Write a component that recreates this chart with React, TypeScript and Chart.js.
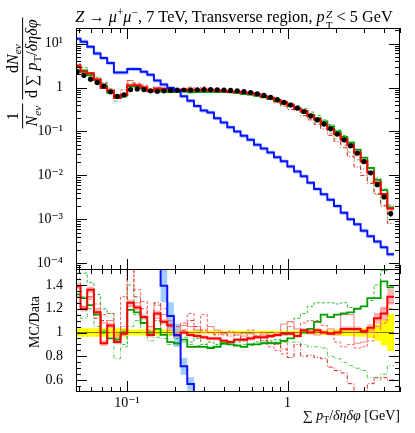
import React, { useEffect, useRef } from 'react';
import { Chart, registerables } from 'chart.js';

Chart.register(...registerables);

const SERIF = "'Liberation Serif', 'DejaVu Serif', serif";

// ---- binning (sum pT density, GeV) ----
const binEdges = [
  0.04667, 0.05133, 0.0565, 0.06216, 0.06842, 0.07525, 0.08285, 0.09117, 0.1003, 0.1104,
  0.1215, 0.1337, 0.1471, 0.1619, 0.1781, 0.196, 0.2157, 0.2373, 0.2612, 0.2873,
  0.3162, 0.3479, 0.3828, 0.4213, 0.4636, 0.5101, 0.5614, 0.6177, 0.6798, 0.748,
  0.8232, 0.9057, 0.9968, 1.0967, 1.2068, 1.328, 1.4614, 1.6082, 1.7697, 1.9473,
  2.1429, 2.358, 2.5947, 2.8552, 3.1419, 3.4575, 3.8046, 4.1866, 4.607,
];

// ---- data ----
const dataY = [
  2.3, 1.9, 1.55, 1.3, 1.08, 0.8, 0.63, 0.68, 0.9, 0.93,
  0.9, 0.84, 0.82, 0.84, 0.86, 0.87, 0.88, 0.88, 0.89, 0.9,
  0.9, 0.89, 0.88, 0.86, 0.84, 0.81, 0.77, 0.72, 0.66, 0.6,
  0.53, 0.46, 0.4, 0.34, 0.285, 0.227, 0.184, 0.147, 0.115, 0.0873,
  0.0648, 0.0473, 0.0323, 0.0208, 0.0114, 0.00615, 0.00323, 0.00135,
];
const dataRelErr = [
  0.035, 0.035, 0.035, 0.035, 0.035, 0.035, 0.035, 0.035,
  0.025, 0.025, 0.025, 0.025, 0.025, 0.025, 0.025, 0.025,
  0.015, 0.015, 0.015, 0.015, 0.015, 0.015, 0.015, 0.015, 0.015, 0.015,
  0.015, 0.015, 0.015, 0.015, 0.015, 0.015, 0.015, 0.015, 0.015, 0.015, 0.015,
  0.02, 0.02, 0.025, 0.03, 0.03, 0.035, 0.035, 0.045, 0.07, 0.11, 0.155,
];

// ---- blue MC (absolute values) ----
const blueMC = [
  13.0, 11.1, 8.5, 6.0, 4.7, 3.6, 2.2, 2.2, 2.65, 2.65,
  2.3, 1.95, 1.45, 1.17, 0.98, 0.85, 0.63, 0.5, 0.38, 0.3,
  0.27, 0.2, 0.16, 0.125, 0.1, 0.08, 0.065, 0.05, 0.041, 0.033,
  0.026, 0.021, 0.016, 0.0123, 0.0095, 0.0068, 0.0049, 0.0037, 0.0028, 0.002,
  0.0014, 0.001, 0.00077, 0.00055, 0.00041, 0.00031, 0.00023, 0.00016,
];
const blueRelErr = 0.1;

// ---- other MC, as MC/Data ----
const redRatio = [
  1.39, 1.2, 1.36, 1.17, 0.91, 1.06, 0.92, 0.99, 1.25, 1.21, 1.13, 0.98, 1.16, 1.09, 1.06, 0.98,
  1.0, 0.98, 0.97, 0.96, 0.95, 0.95, 0.93, 0.92, 0.94, 0.94, 0.95, 0.96, 0.96, 0.97, 0.98, 0.99,
  0.99, 0.97, 1.02, 1.0, 1.02, 1.0, 0.99, 1.0, 1.03, 1.03, 1.03, 1.01, 1.04, 1.12, 1.16, 1.3,
];
const redRelErr = [
  0.02, 0.02, 0.02, 0.02, 0.025, 0.02, 0.02, 0.02, 0.02, 0.02, 0.02, 0.02, 0.02, 0.02, 0.02, 0.02,
  0.015, 0.015, 0.015, 0.015, 0.015, 0.015, 0.015, 0.015, 0.015, 0.015, 0.015, 0.015, 0.015, 0.015, 0.015, 0.015,
  0.015, 0.015, 0.015, 0.015, 0.015, 0.015, 0.015, 0.015, 0.02, 0.02, 0.02, 0.02, 0.03, 0.04, 0.05, 0.05,
];
const greenRatio = [
  1.32, 1.29, 1.23, 1.15, 1.0, 0.95, 0.94, 1.0, 1.19, 1.17, 1.08, 1.0, 1.03, 0.98, 0.92, 0.91,
  0.94, 0.88, 0.88, 0.88, 0.87, 0.88, 0.91, 0.9, 0.89, 0.88, 0.9, 0.9, 0.91, 0.91, 0.91, 0.93,
  0.95, 0.97, 1.0, 1.03, 1.09, 1.15, 1.13, 1.15, 1.16, 1.17, 1.2, 1.22, 1.29, 1.29, 1.43, 1.38,
];
const greenRelErr = 0.035;
const pinkRatio = [
  1.3, 1.22, 1.3, 1.2, 1.08, 1.1, 0.96, 1.02, 1.22, 1.25, 1.08, 1.05, 1.12, 1.15, 1.02, 1.0,
  1.06, 1.05, 1.02, 1.0, 1.05, 1.02, 0.99, 1.0, 0.98, 0.97, 0.99, 1.0, 0.98, 0.96, 1.0, 1.07,
  1.09, 1.03, 1.0, 1.02, 0.98, 1.0, 1.03, 0.98, 1.15, 1.15, 0.91, 0.92, 1.0, 1.05, 1.2, 1.25,
];
const redDashRatio = [
  1.45, 1.3, 1.28, 1.24, 1.15, 1.16, 0.98, 1.3, 1.6, 1.36, 1.26, 1.02, 1.23, 1.2, 1.1, 1.05,
  1.08, 1.16, 1.0, 1.15, 1.0, 1.0, 0.98, 1.01, 1.0, 0.99, 1.02, 0.97, 1.0, 0.88, 0.85, 0.82,
  1.05, 1.0, 1.08, 1.1, 1.1, 1.06, 1.0, 0.92, 0.88, 0.9, 0.87, 0.88, 0.93, 1.0, 1.08, 1.2,
];
const redDotRatio = [
  1.25, 1.22, 1.3, 1.12, 1.1, 1.0, 0.96, 1.05, 1.6, 1.3, 1.2, 1.05, 1.25, 1.0, 1.1, 1.05,
  1.02, 1.1, 1.05, 1.02, 1.0, 0.98, 1.0, 0.97, 0.98, 0.95, 0.96, 0.97, 0.93, 0.92, 0.9, 0.86,
  0.79, 0.9, 0.8, 0.81, 0.79, 0.78, 0.71, 0.68, 0.66, 0.57, 0.48, 0.48, 0.57, 0.62, 0.62, 0.6,
];
const greenDashRatio = [
  1.5, 1.5, 1.42, 1.32, 1.2, 1.16, 0.95, 0.9, 1.4, 1.15, 1.12, 1.0, 1.1, 1.0, 0.98, 0.95,
  0.96, 0.92, 0.95, 0.9, 0.92, 0.9, 0.9, 0.92, 0.92, 0.93, 0.9, 0.92, 0.93, 0.93, 0.94, 0.98,
  1.09, 1.12, 1.16, 1.22, 1.25, 1.25, 1.25, 1.24, 1.25, 1.21, 1.2, 1.22, 1.27, 1.4, 1.52, 1.55,
];
const greenDotRatio = [
  1.15, 1.12, 1.2, 1.05, 1.02, 1.0, 0.78, 0.88, 1.05, 1.1, 1.0, 0.93, 0.96, 0.95, 0.9, 0.9,
  0.92, 0.9, 0.89, 0.9, 0.88, 0.89, 0.9, 0.91, 0.9, 0.9, 0.89, 0.9, 0.91, 0.92, 0.92, 0.92,
  0.92, 0.92, 0.9, 0.88, 0.88, 0.87, 0.8, 0.78, 0.75, 0.72, 0.7, 0.68, 0.62, 0.6, 0.65, 0.72,
];

// ---- axes ----
const X_MIN = 0.0481;
const X_MAX = 5.02;
const Y_MIN = 7.19e-5;
const Y_MAX = 22.7;
const R_MIN = 0.5;
const R_MAX = 1.534;
const xTickValues = [0.1, 1];
const xTickLabels = ['10\u207B\u00B9', '1'];
const yTickValues = [1e-4, 1e-3, 1e-2, 1e-1, 1, 10];
const yTickLabels = ['10\u207B\u2074', '10\u207B\u00B3', '10\u207B\u00B2', '10\u207B\u00B9', '1', '10\u00B9'];
const rTickValues = [0.6, 0.8, 1, 1.2, 1.4];
const rTickLabels = ['0.6', '0.8', '1', '1.2', '1.4'];

// ---- helpers ----
const stepData = (vals: number[]) => {
  const pts = vals.map((v, i) => ({ x: binEdges[i], y: v }));
  pts.push({ x: binEdges[vals.length], y: vals[vals.length - 1] });
  return pts;
};
const times = (a: number[], b: number[]) => a.map((v, i) => v * b[i]);
const scaleBy = (a: number[], f: (i: number) => number) => a.map((v, i) => v * f(i));

const line = (vals: number[], color: string, width: number, dash: number[], order: number) => ({
  type: 'line',
  data: stepData(vals),
  borderColor: color,
  borderWidth: width,
  borderDash: dash,
  pointRadius: 0,
  stepped: true,
  fill: false,
  order,
});
const band = (lo: number[], hi: number[], color: string, order: number) => [
  { type: 'line', data: stepData(lo), borderWidth: 0, borderColor: 'rgba(0,0,0,0)', pointRadius: 0, stepped: true, fill: false, order },
  { type: 'line', data: stepData(hi), borderWidth: 0, borderColor: 'rgba(0,0,0,0)', backgroundColor: color, pointRadius: 0, stepped: true, fill: '-1', order },
];

const COLORS = {
  blue: '#1010ff',
  blueBand: 'rgba(110,180,255,0.65)',
  red: '#ff0000',
  redBand: 'rgba(255,90,90,0.45)',
  green: '#00a000',
  greenBand: 'rgba(60,200,60,0.4)',
  pink: '#ff7a7a',
  redDash: '#ff5a5a',
  redDot: '#dd2020',
  greenDash: '#30b830',
  greenDot: '#55c855',
};

function framePlugin(kind: 'log' | 'ratio') {
  return {
    id: 'frame_' + kind,
    afterDraw(chart: any) {
      const { ctx, chartArea: a } = chart;
      const xs = chart.scales.x;
      const ys = chart.scales.y;
      const MAJ = 11;
      const MIN = 5;
      ctx.save();
      ctx.strokeStyle = '#000';
      ctx.lineWidth = 1;
      ctx.beginPath();
      for (const dec of [0.01, 0.1, 1]) {
        for (let m = 1; m <= 9; m++) {
          const v = m * dec;
          if (v < X_MIN || v > X_MAX) continue;
          const px = Math.round(xs.getPixelForValue(v)) + 0.5;
          const len = m === 1 ? MAJ : MIN;
          ctx.moveTo(px, a.top);
          ctx.lineTo(px, a.top + len);
          ctx.moveTo(px, a.bottom);
          ctx.lineTo(px, a.bottom - len);
        }
      }
      const yTick = (v: number, len: number) => {
        const py = Math.round(ys.getPixelForValue(v)) + 0.5;
        ctx.moveTo(a.left, py);
        ctx.lineTo(a.left + len, py);
        ctx.moveTo(a.right, py);
        ctx.lineTo(a.right - len, py);
      };
      if (kind === 'log') {
        for (let e = -5; e <= 2; e++) {
          for (let m = 1; m <= 9; m++) {
            const v = m * Math.pow(10, e);
            if (v < Y_MIN || v > Y_MAX) continue;
            yTick(v, m === 1 ? MAJ : MIN);
          }
        }
      } else {
        for (let i = 11; i <= 30; i++) {
          const v = i * 0.05;
          if (v > R_MAX) continue;
          yTick(v, i % 4 === 0 ? MAJ : MIN);
        }
      }
      ctx.stroke();
      ctx.strokeRect(a.left + 0.5, a.top + 0.5, a.right - a.left - 1, a.bottom - a.top - 1);
      ctx.restore();
    },
  };
}

const errorBarPlugin = {
  id: 'errbars',
  afterDatasetsDraw(chart: any) {
    const { ctx } = chart;
    const xs = chart.scales.x;
    const ys = chart.scales.y;
    ctx.save();
    ctx.strokeStyle = '#000';
    ctx.lineWidth = 1.2;
    ctx.beginPath();
    dataY.forEach((v, i) => {
      const xc = Math.sqrt(binEdges[i] * binEdges[i + 1]);
      const px = xs.getPixelForValue(xc);
      ctx.moveTo(px, ys.getPixelForValue(v * (1 + dataRelErr[i])));
      ctx.lineTo(px, ys.getPixelForValue(v * (1 - dataRelErr[i])));
    });
    ctx.stroke();
    ctx.restore();
  },
};

const tickFont = { family: SERIF, size: 14 };

function xScale(showLabels: boolean): any {
  const s: any = {
    type: 'logarithmic',
    display: showLabels,
    min: X_MIN,
    max: X_MAX,
    afterBuildTicks: (sc: any) => {
      sc.ticks = xTickValues.map((v) => ({ value: v }));
    },
    grid: { display: false, drawTicks: false },
    border: { display: false },
    ticks: {
      padding: 3,
      maxRotation: 0,
      autoSkip: false,
      color: '#000',
      font: tickFont,
      callback: (v: any) => {
        const i = xTickValues.findIndex((t) => Math.abs(Math.log10(t) - Math.log10(Number(v))) < 1e-6);
        return i >= 0 ? xTickLabels[i] : '';
      },
    },
  };
  if (showLabels) {
    s.afterFit = (sc: any) => {
      sc.height = 41;
      sc.paddingLeft = 0;
      sc.paddingRight = 0;
    };
  }
  return s;
}

const yFit = (s: any) => {
  s.width = 76;
  s.paddingTop = 0;
  s.paddingBottom = 0;
};

function mainConfig(): any {
  const redMain = times(dataY, redRatio);
  const greenMain = times(dataY, greenRatio);
  const datasets: any[] = [
    ...band(scaleBy(blueMC, () => 1 - blueRelErr), scaleBy(blueMC, () => 1 + blueRelErr), COLORS.blueBand, 30),
    ...band(scaleBy(greenMain, () => 1 - greenRelErr), scaleBy(greenMain, () => 1 + greenRelErr), COLORS.greenBand, 29),
    ...band(scaleBy(redMain, (i) => 1 - redRelErr[i]), scaleBy(redMain, (i) => 1 + redRelErr[i]), COLORS.redBand, 28),
    line(times(dataY, greenDotRatio), COLORS.greenDot, 1, [4, 2, 1, 2], 14),
    line(times(dataY, greenDashRatio), COLORS.greenDash, 1, [3, 2], 13),
    line(times(dataY, redDotRatio), COLORS.redDot, 1, [4, 2, 1, 2], 12),
    line(times(dataY, redDashRatio), COLORS.redDash, 1, [3, 2], 11),
    line(times(dataY, pinkRatio), COLORS.pink, 1, [], 10),
    line(greenMain, COLORS.green, 1.8, [], 6),
    line(redMain, COLORS.red, 2, [], 5),
    line(blueMC, COLORS.blue, 2, [], 4),
    {
      type: 'line',
      data: dataY.map((v, i) => ({ x: Math.sqrt(binEdges[i] * binEdges[i + 1]), y: v })),
      showLine: false,
      pointRadius: 2.6,
      pointBackgroundColor: '#000',
      pointBorderColor: '#000',
      pointBorderWidth: 0,
      order: 0,
    },
  ];
  return {
    type: 'line',
    data: { datasets },
    options: {
      responsive: false,
      animation: false,
      events: [],
      layout: { autoPadding: false, padding: { top: 28, right: 15, bottom: 0, left: 0 } },
      plugins: { legend: { display: false }, tooltip: { enabled: false } },
      scales: {
        x: xScale(false),
        y: {
          type: 'logarithmic',
          position: 'left',
          min: Y_MIN,
          max: Y_MAX,
          afterBuildTicks: (s: any) => {
            s.ticks = yTickValues.map((v) => ({ value: v }));
          },
          afterFit: yFit,
          grid: { display: false, drawTicks: false },
          border: { display: false },
          ticks: {
            padding: 13,
            autoSkip: false,
            color: '#000',
            font: tickFont,
            callback: (v: any) => {
              const i = yTickValues.findIndex((t) => Math.abs(Math.log10(t) - Math.log10(Number(v))) < 1e-6);
              return i >= 0 ? yTickLabels[i] : '';
            },
          },
        },
      },
    },
    plugins: [framePlugin('log'), errorBarPlugin],
  };
}

function ratioConfig(): any {
  const ones = dataY.map(() => 1);
  const blueRatio = blueMC.map((v, i) => v / dataY[i]);
  const datasets: any[] = [
    ...band(dataRelErr.map((e) => 1 - e), dataRelErr.map((e) => 1 + e), '#ffff00', 40),
    ...band(scaleBy(blueRatio, () => 1 - blueRelErr), scaleBy(blueRatio, () => 1 + blueRelErr), COLORS.blueBand, 30),
    ...band(scaleBy(redRatio, (i) => 1 - redRelErr[i]), scaleBy(redRatio, (i) => 1 + redRelErr[i]), COLORS.redBand, 28),
    line(ones, 'rgba(60,60,0,0.7)', 1, [], 20),
    line(greenDotRatio, COLORS.greenDot, 1, [4, 2, 1, 2], 14),
    line(greenDashRatio, COLORS.greenDash, 1, [3, 2], 13),
    line(redDotRatio, COLORS.redDot, 1, [4, 2, 1, 2], 12),
    line(redDashRatio, COLORS.redDash, 1, [3, 2], 11),
    line(pinkRatio, COLORS.pink, 1, [], 10),
    line(greenRatio, COLORS.green, 1.8, [], 6),
    line(redRatio, COLORS.red, 2, [], 5),
    line(blueRatio, COLORS.blue, 2, [], 4),
  ];
  return {
    type: 'line',
    data: { datasets },
    options: {
      responsive: false,
      animation: false,
      events: [],
      layout: { autoPadding: false, padding: { top: 0, right: 15, bottom: 0, left: 0 } },
      plugins: { legend: { display: false }, tooltip: { enabled: false } },
      scales: {
        x: xScale(true),
        y: {
          type: 'linear',
          position: 'left',
          min: R_MIN,
          max: R_MAX,
          afterBuildTicks: (s: any) => {
            s.ticks = rTickValues.map((v) => ({ value: v }));
          },
          afterFit: yFit,
          grid: { display: false, drawTicks: false },
          border: { display: false },
          ticks: {
            padding: 13,
            autoSkip: false,
            color: '#000',
            font: tickFont,
            callback: (v: any) => {
              const i = rTickValues.findIndex((t) => Math.abs(t - Number(v)) < 1e-6);
              return i >= 0 ? rTickLabels[i] : '';
            },
          },
        },
      },
    },
    plugins: [framePlugin('ratio')],
  };
}

const Frac = ({ num, den }: { num: React.ReactNode; den: React.ReactNode }) => (
  <span style={{ display: 'inline-flex', flexDirection: 'column', alignItems: 'center', verticalAlign: 'middle' }}>
    <span style={{ padding: '0 2px', lineHeight: 1.15 }}>{num}</span>
    <span style={{ borderTop: '1px solid #000', padding: '0 2px', lineHeight: 1.15 }}>{den}</span>
  </span>
);

const Sub = ({ children }: { children: React.ReactNode }) => (
  <span style={{ fontSize: '0.7em', position: 'relative', top: '0.3em' }}>{children}</span>
);

const SubSup = ({ sub, sup }: { sub: React.ReactNode; sup: React.ReactNode }) => (
  <span
    style={{
      display: 'inline-flex',
      flexDirection: 'column',
      fontSize: '0.68em',
      lineHeight: 0.95,
      verticalAlign: '0.38em',
      marginLeft: 1,
    }}
  >
    <span>{sup}</span>
    <span>{sub}</span>
  </span>
);

export default function App() {
  const mainRef = useRef<HTMLCanvasElement>(null);
  const ratioRef = useRef<HTMLCanvasElement>(null);

  useEffect(() => {
    const c1 = new Chart(mainRef.current as HTMLCanvasElement, mainConfig());
    const c2 = new Chart(ratioRef.current as HTMLCanvasElement, ratioConfig());
    return () => {
      c1.destroy();
      c2.destroy();
    };
  }, []);

  return (
    <div
      style={{
        position: 'absolute',
        left: 0,
        top: 0,
        width: 415,
        height: 433,
        background: '#fff',
        fontFamily: SERIF,
        color: '#000',
        overflow: 'hidden',
      }}
    >
      <canvas ref={mainRef} width={415} height={270} style={{ position: 'absolute', left: 0, top: 0 }} />
      <canvas ref={ratioRef} width={415} height={164} style={{ position: 'absolute', left: 0, top: 269 }} />

      <div
        style={{
          position: 'absolute',
          left: 68,
          width: 332,
          top: 2,
          textAlign: 'center',
          fontSize: 16.3,
          lineHeight: '20px',
          whiteSpace: 'nowrap',
        }}
      >
        <i>Z</i> → <i>μ</i>
        <sup style={{ fontSize: '0.7em' }}>+</sup>
        <i>μ</i>
        <sup style={{ fontSize: '0.7em' }}>−</sup>, 7 TeV, Transverse region, <i>p</i>
        <SubSup sub="T" sup={<i>Z</i>} /> &lt; 5 GeV
      </div>

      <div
        style={{
          position: 'absolute',
          left: 23,
          top: 73,
          transform: 'translate(-50%, -50%) rotate(-90deg)',
          whiteSpace: 'nowrap',
          display: 'flex',
          alignItems: 'center',
          fontSize: 16,
        }}
      >
        <Frac
          num="1"
          den={
            <>
              <i>N</i>
              <Sub>
                <i>ev</i>
              </Sub>
            </>
          }
        />
        <span style={{ display: 'inline-block', width: 4 }} />
        <Frac
          num={
            <>
              d<i>N</i>
              <Sub>
                <i>ev</i>
              </Sub>
            </>
          }
          den={
            <>
              d ∑ <i>p</i>
              <Sub>T</Sub>/<i>δηδφ</i>
            </>
          }
        />
      </div>

      <div
        style={{
          position: 'absolute',
          left: 35,
          top: 322,
          transform: 'translate(-50%, -50%) rotate(-90deg)',
          whiteSpace: 'nowrap',
          fontSize: 14,
        }}
      >
        MC/Data
      </div>

      <div
        style={{
          position: 'absolute',
          right: 15,
          top: 407,
          fontSize: 14,
          lineHeight: '18px',
          whiteSpace: 'nowrap',
        }}
      >
        ∑ <i>p</i>
        <Sub>T</Sub>/<i>δηδφ</i> [GeV]
      </div>
    </div>
  );
}
